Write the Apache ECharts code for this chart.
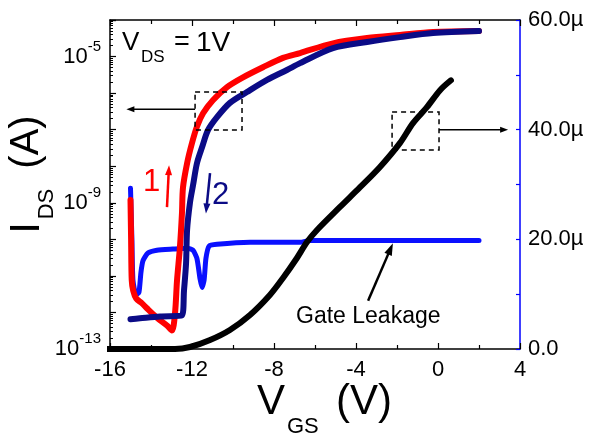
<!DOCTYPE html>
<html><head><meta charset="utf-8">
<script src="https://cdn.jsdelivr.net/npm/echarts@6/dist/echarts.min.js"></script>
<style>html,body{margin:0;padding:0;background:#fff}#c{width:596px;height:439px}</style>
</head><body><div id="c"></div>
<script>
// ---- data ----
// forward sweep (1), red, log scale
const vgsFwd = [-15.0, -14.97, -14.94, -14.87, -14.72, -14.45, -14.2, -13.71, -13.22, -12.98, -12.83, -12.73, -12.59, -12.49, -12.44, -12.24, -12.0, -11.76, -11.46, -10.98, -10.29, -9.51, -8.54, -7.56, -6.73, -5.12, -3.46, -1.85, -0.24, 2.0];
const idsFwd = [1.2e-9, 9.3e-11, 7.6e-12, 4.0e-12, 2.4e-12, 1.8e-12, 1.3e-12, 7.2e-13, 4.4e-13, 3.2e-13, 9.3e-13, 7.6e-12, 6.0e-11, 5.1e-10, 2.6e-9, 1.2e-8, 4.3e-8, 1.2e-7, 2.8e-7, 6.4e-7, 1.46e-6, 2.7e-6, 5.1e-6, 9.2e-6, 1.25e-5, 2.3e-5, 3.2e-5, 3.9e-5, 4.7e-5, 5.0e-5];
// reverse sweep (2), navy, log scale
const vgsRev = [2.0, -0.24, -1.85, -3.46, -5.12, -6.73, -7.37, -8.34, -9.32, -10.15, -10.78, -11.22, -11.51, -11.76, -11.95, -12.1, -12.24, -12.29, -12.39, -12.49, -13.56, -14.54, -15.0];
const idsRev = [5.0e-5, 4.4e-5, 3.4e-5, 2.5e-5, 1.7e-5, 6.6e-6, 4.3e-6, 2.3e-6, 1.07e-6, 5.4e-7, 2.2e-7, 9.7e-8, 3.3e-8, 1.2e-8, 3.0e-9, 1.0e-9, 1.8e-10, 2.2e-11, 4.0e-12, 8.3e-13, 7.8e-13, 6.9e-13, 6.5e-13];
// gate leakage, blue, log scale
const vgsGate = [-15.0, -14.93, -14.88, -14.73, -14.59, -14.49, -14.39, -14.15, -13.71, -12.93, -12.24, -11.95, -11.76, -11.61, -11.51, -11.41, -11.32, -11.17, -10.78, -9.17, -6.73, -6.24, -1.85, 2.0];
const igGate  = [2.5e-9, 9.3e-11, 7.6e-12, 3.1e-12, 3.5e-12, 1.25e-11, 2.6e-11, 4.2e-11, 5.0e-11, 5.4e-11, 5.7e-11, 5.0e-11, 3.0e-11, 8.5e-12, 4.8e-12, 7.6e-12, 3.0e-11, 6.5e-11, 7.3e-11, 8.3e-11, 8.3e-11, 9.3e-11, 9.3e-11, 9.3e-11];
// linear I_DS (right axis, µA), black
const vgsLin = [-16.5, -15.0, -12.83, -12.1, -11.12, -10.15, -9.17, -8.2, -7.56, -6.88, -6.39, -5.9, -4.78, -3.8, -2.83, -1.85, -1.22, -0.54, 0.1, 0.63];
const idsLin = [0, 0, 0, 0.36, 1.64, 3.47, 6.2, 9.85, 12.95, 16.6, 19.5, 21.7, 25.9, 29.5, 33.2, 37.6, 41.2, 44.1, 47.2, 49.0];
// axis ticks
const xTicks = {min: -16, max: 4, step: 4};
const logLabelExps = [-13, -9, -5];
const rightTicks = {min: 0, max: 60, step: 10, labelStep: 20};

const zip = (a, b) => a.map((v, i) => [v, b[i]]);
const FONT = "'Liberation Sans', Arial, sans-serif";

const chart = echarts.init(document.getElementById('c'), null, {renderer: 'canvas'});

const minorVals = [];
for (let e = -13; e <= -5; e++) for (let k = 2; k <= 9; k++) minorVals.push(+(k * Math.pow(10, e)).toPrecision(3));

function xAxisDef(pos, showLabel) {
  return {
    type: 'value', min: xTicks.min, max: xTicks.max, interval: xTicks.step, position: pos,
    axisLine: {show: true, onZero: false, lineStyle: {color: '#000', width: 1.5}},
    axisTick: {show: true, inside: true, length: 6, lineStyle: {color: '#000', width: 1.2}},
    minorTick: {show: true, splitNumber: 2, length: 4, lineStyle: {color: '#000', width: 1.2}},
    splitLine: {show: false}, minorSplitLine: {show: false},
    axisLabel: {show: showLabel, color: '#000', fontSize: 22, fontFamily: FONT, margin: 10,
      formatter: v => String(v)}
  };
}

const option = {
  animation: false,
  backgroundColor: '#fff',
  grid: {left: 110, right: 76, top: 20, bottom: 90, outerBoundsMode: 'none', containLabel: false},
  xAxis: [xAxisDef('bottom', true), xAxisDef('top', false)],
  yAxis: [
    {
      type: 'log', logBase: 10, min: 1e-13, max: 1e-4, position: 'left',
      axisLine: {show: true, onZero: false, lineStyle: {color: '#000', width: 1.5}},
      axisTick: {show: true, inside: true, length: 6, lineStyle: {color: '#000', width: 1.2}},
      splitLine: {show: false},
      axisLabel: {
        color: '#000', fontFamily: FONT, margin: 9,
        formatter: v => {
          const e = Math.round(Math.log10(v));
          return logLabelExps.indexOf(e) >= 0 ? '{b|10}{s|' + e + '}' : '';
        },
        rich: {
          b: {fontSize: 22, fontFamily: FONT, color: '#000'},
          s: {fontSize: 15, fontFamily: FONT, color: '#000', padding: [0, 0, 20, 0]}
        }
      }
    },
    {
      type: 'value', min: rightTicks.min, max: rightTicks.max, interval: rightTicks.step, position: 'right',
      axisLine: {show: true, onZero: false, lineStyle: {color: '#0000ff', width: 1.5}},
      axisTick: {show: true, inside: true, length: 4, lineStyle: {color: '#0000ff', width: 1.2}},
      splitLine: {show: false},
      axisLabel: {
        color: '#000', fontSize: 22, fontFamily: FONT, margin: 8,
        formatter: v => v === 0 ? '0.0' : (v % rightTicks.labelStep === 0 ? v.toFixed(1) + 'µ' : '')
      }
    },
    {
      type: 'log', logBase: 10, min: 1e-13, max: 1e-4, position: 'left',
      axisLine: {show: false, onZero: false},
      axisTick: {show: true, inside: true, length: 3, customValues: minorVals, lineStyle: {color: '#000', width: 1}},
      axisLabel: {show: false},
      splitLine: {show: false}
    }
  ],
  series: [
    {type: 'line', name: 'gate', data: zip(vgsGate, igGate), yAxisIndex: 0, showSymbol: false, symbol: 'none',
      smooth: 0.2,
      lineStyle: {color: '#0a10ff', width: 5, cap: 'round', join: 'round'}, z: 2},
    {type: 'line', name: 'fwd', data: zip(vgsFwd, idsFwd), yAxisIndex: 0, showSymbol: false, symbol: 'none',
      smooth: 0.3,
      lineStyle: {color: '#ff0000', width: 6, cap: 'round', join: 'round'}, z: 3},
    {type: 'line', name: 'rev', data: zip(vgsRev, idsRev), yAxisIndex: 0, showSymbol: false, symbol: 'none',
      smooth: 0.3,
      lineStyle: {color: '#0b0b86', width: 6, cap: 'round', join: 'round'}, z: 4},
    {type: 'line', name: 'lin', data: zip(vgsLin, idsLin), yAxisIndex: 1, showSymbol: false, symbol: 'none', clip: false,
      smooth: 0.3,
      lineStyle: {color: '#000', width: 6, cap: 'round', join: 'round'}, z: 5}
  ]
};
chart.setOption(option);

// ---- annotations positioned through the axes ----
const X = v => chart.convertToPixel({xAxisIndex: 0}, v);
const YL = v => chart.convertToPixel({yAxisIndex: 0}, v);
const YR = v => chart.convertToPixel({yAxisIndex: 1}, v);

function arrow(p0, p1, color, w, hl, hw) {
  const dx = p1[0] - p0[0], dy = p1[1] - p0[1], L = Math.hypot(dx, dy), ux = dx / L, uy = dy / L;
  const bx = p1[0] - ux * hl, by = p1[1] - uy * hl, nx = -uy, ny = ux;
  return [
    {type: 'line', shape: {x1: p0[0], y1: p0[1], x2: bx + ux * 1, y2: by + uy * 1}, style: {stroke: color, lineWidth: w}, z: 100},
    {type: 'polygon', shape: {points: [[p1[0], p1[1]], [bx + nx * hw / 2, by + ny * hw / 2], [bx - nx * hw / 2, by - ny * hw / 2]]}, style: {fill: color}, z: 100}
  ];
}
function dashedBox(x0, x1, y0, y1) {
  return {type: 'rect', shape: {x: Math.min(x0, x1), y: Math.min(y0, y1), width: Math.abs(x1 - x0), height: Math.abs(y1 - y0)},
    style: {fill: 'none', stroke: '#000', lineWidth: 1.5, lineDash: [5, 4]}, z: 100};
}
function txt(x, y, text, size, color, align, rot) {
  return {type: 'text', x: x, y: y, rotation: rot || 0, z: 100,
    style: {text: text, font: size + 'px ' + FONT, fill: color, textAlign: align || 'left', textVerticalAlign: 'middle',
      align: align || 'left', verticalAlign: 'middle'}};
}

const g = [];
// left dashed box + arrow to left axis
g.push(dashedBox(X(-11.85), X(-9.56), YL(1.07e-6), YL(9.8e-8)));
g.push(...arrow([X(-11.85), YL(3.6e-7)], [X(-15.2), YL(3.6e-7)], '#000', 1.5, 8, 6));
// right dashed box + arrow to right axis
g.push(dashedBox(X(-2.24), X(0.05), YR(43.2), YR(36.3)));
g.push(...arrow([X(0.05), YR(40)], [X(3.42), YR(40)], '#000', 1.5, 8, 6));
// sweep arrows
g.push(...arrow([X(-13.22), YL(7.6e-10)], [X(-13.12), YL(1.07e-8)], '#ff0000', 2.5, 10, 7));
g.push(...arrow([X(-11.12), YL(6.5e-9)], [X(-11.32), YL(5.1e-10)], '#0b0b86', 2.5, 10, 7));
// gate leakage arrow
g.push(...arrow([X(-3.41), YL(2.1e-12)], [X(-2.2), YL(7.8e-11)], '#000', 2.5, 12, 8));

// texts
g.push(txt(143, 182, '1', 31, '#ff0000'));
g.push(txt(212, 195, '2', 31, '#0b0b86'));
g.push(txt(296, 317, 'Gate Leakage', 23, '#000'));
g.push(txt(122, 43, 'V', 26, '#000'));
g.push(txt(141, 57, 'DS', 17, '#000'));
g.push(txt(174, 43, '=', 27, '#000'));
g.push(txt(196, 43, '1V', 28, '#000'));
// x-axis title
g.push(txt(257, 402, 'V', 42, '#000'));
g.push(txt(287, 427, 'GS', 22, '#000'));
g.push(txt(336, 402, '(V)', 42, '#000'));
// y-axis title (rotated)
g.push(txt(27, 228, 'I', 42, '#000', 'center', Math.PI / 2));
g.push(txt(47, 204, 'DS', 22, '#000', 'center', Math.PI / 2));
g.push(txt(27, 142, '(A)', 40, '#000', 'center', Math.PI / 2));

chart.setOption({graphic: {elements: g}});
</script>
</body></html>
